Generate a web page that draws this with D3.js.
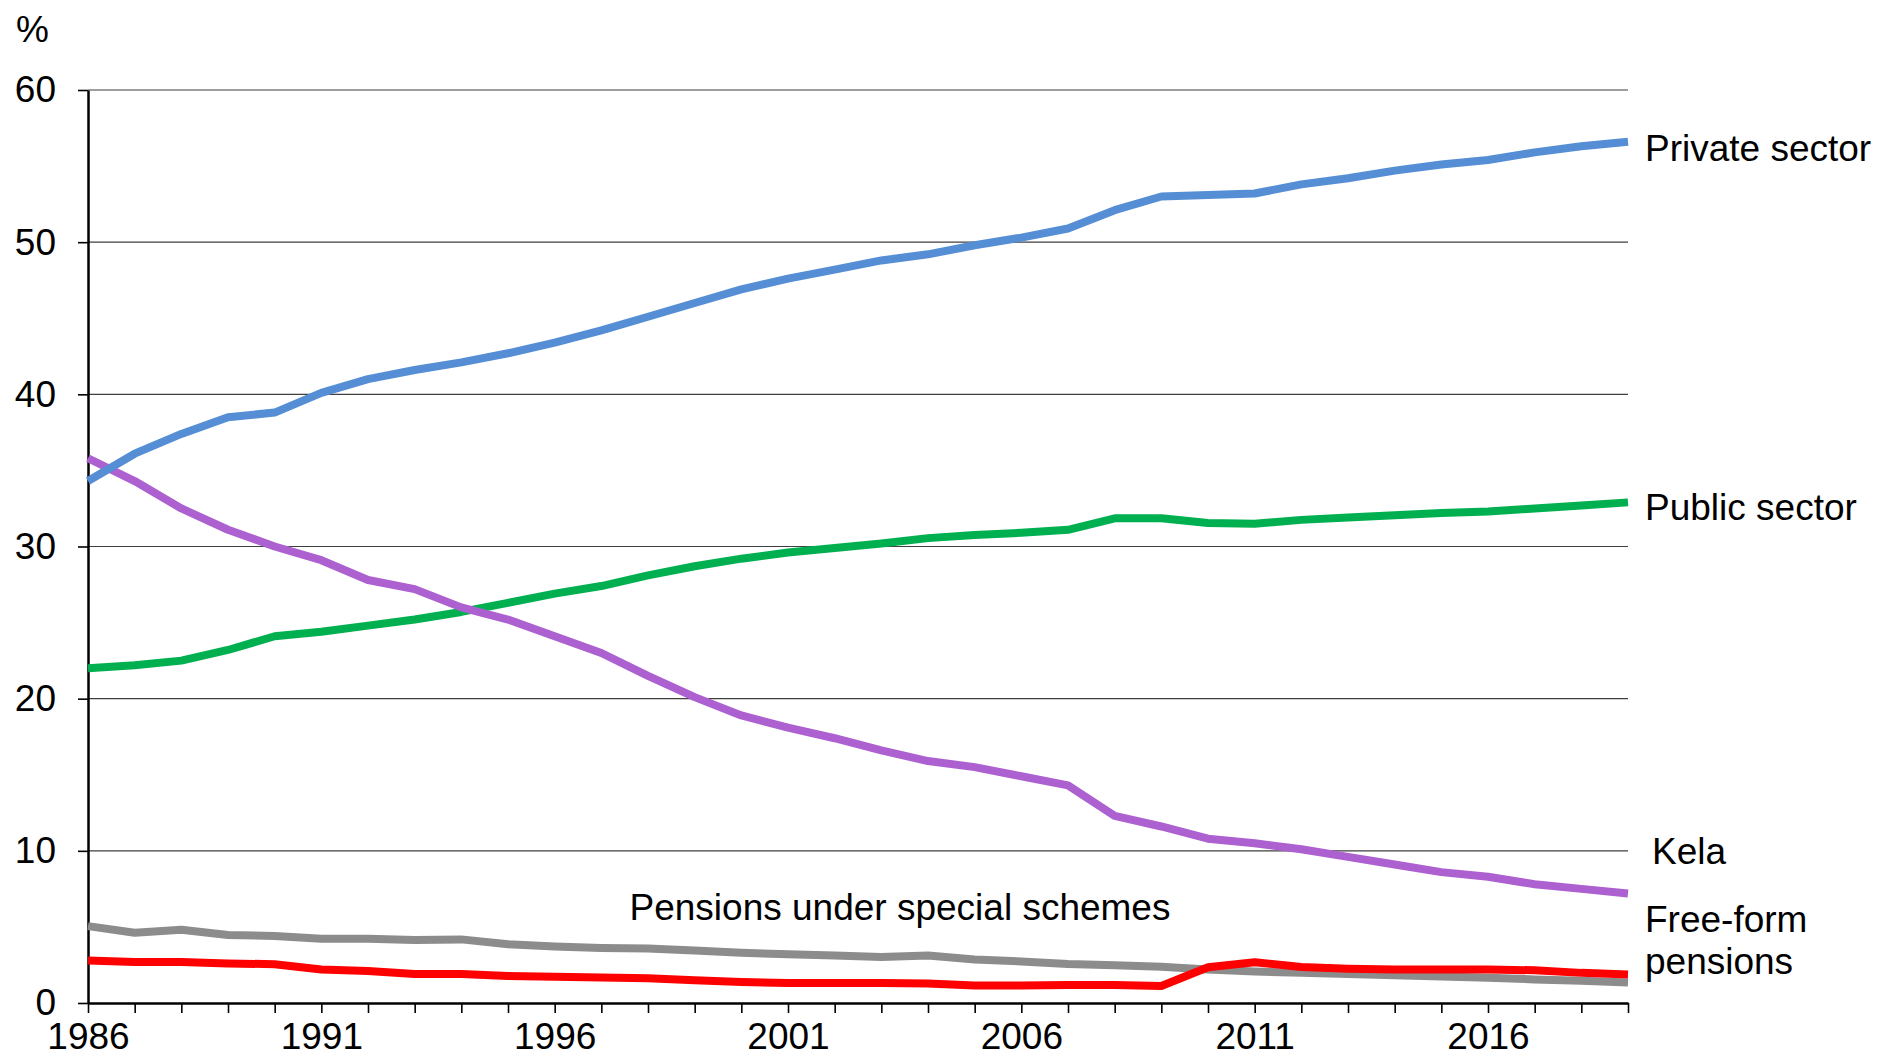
<!DOCTYPE html>
<html>
<head>
<meta charset="utf-8">
<script src="https://d3js.org/d3.v7.min.js"></script>
<style>
  body { margin: 0; background: #fff; }
  svg { display: block; }
  text { font-family: "Liberation Sans", Arial, sans-serif; fill: #000; }
</style>
</head>
<body>
<svg></svg>
<script>
// data
const years = d3.range(1986, 2020);

const privateSector = [34.3, 36.1, 37.4, 38.5, 38.8, 40.1, 41.0, 41.6, 42.1, 42.7,
  43.4, 44.2, 45.1, 46.0, 46.9, 47.6, 48.2, 48.8, 49.2, 49.8,
  50.3, 50.9, 52.1, 53.0, 53.1, 53.2, 53.8, 54.2, 54.7, 55.1,
  55.4, 55.9, 56.3, 56.6];

const publicSector = [22.0, 22.2, 22.5, 23.2, 24.1, 24.4, 24.8, 25.2, 25.7, 26.3,
  26.9, 27.4, 28.1, 28.7, 29.2, 29.6, 29.9, 30.2, 30.55, 30.75,
  30.9, 31.1, 31.85, 31.85, 31.55, 31.5, 31.75, 31.9, 32.05, 32.2,
  32.3, 32.5, 32.7, 32.9];

const kela = [35.8, 34.3, 32.5, 31.1, 30.0, 29.1, 27.8, 27.2, 26.0, 25.2,
  24.1, 23.0, 21.5, 20.1, 18.9, 18.1, 17.4, 16.6, 15.9, 15.5,
  14.9, 14.3, 12.3, 11.6, 10.8, 10.5, 10.1, 9.6, 9.1, 8.6,
  8.3, 7.8, 7.5, 7.2];

const specialSchemes = [5.05, 4.62, 4.82, 4.47, 4.4, 4.22, 4.22, 4.14, 4.18, 3.86,
  3.72, 3.62, 3.58, 3.45, 3.3, 3.2, 3.12, 3.02, 3.12, 2.86,
  2.73, 2.57, 2.48, 2.38, 2.2, 2.07, 1.98, 1.9, 1.82, 1.74,
  1.66, 1.55, 1.46, 1.35];

const freeForm = [2.8, 2.7, 2.7, 2.6, 2.55, 2.2, 2.1, 1.9, 1.9, 1.78,
  1.72, 1.68, 1.62, 1.5, 1.38, 1.32, 1.32, 1.32, 1.28, 1.15,
  1.15, 1.18, 1.18, 1.12, 2.35, 2.68, 2.36, 2.25, 2.2, 2.2,
  2.2, 2.15, 1.98, 1.88];

const yTicks = [0, 10, 20, 30, 40, 50, 60];
const xLabelYears = [1986, 1991, 1996, 2001, 2006, 2011, 2016];

// drawing order: later ones on top
const series = [
  { name: "Pensions under special schemes", values: specialSchemes, color: "#8c8c8c" },
  { name: "Free-form pensions", values: freeForm, color: "#ff0000" },
  { name: "Public sector", values: publicSector, color: "#00b050" },
  { name: "Kela", values: kela, color: "#ad60d0" },
  { name: "Private sector", values: privateSector, color: "#558ed5" }
];

const width = 1877;
const height = 1056;
const margin = { top: 90, right: 249, bottom: 53, left: 88 };

const svg = d3.select("svg")
  .attr("width", width)
  .attr("height", height);

const x = d3.scaleLinear()
  .domain([1986, 2019])
  .range([margin.left, width - margin.right]);

const y = d3.scaleLinear()
  .domain([0, 60])
  .range([height - margin.bottom, margin.top]);

// gridlines
svg.append("g")
  .selectAll("line")
  .data(yTicks.filter(d => d > 0))
  .enter()
  .append("line")
  .attr("x1", x(1986))
  .attr("x2", x(2019))
  .attr("y1", d => y(d))
  .attr("y2", d => y(d))
  .style("stroke", "#3f3f3f")
  .style("stroke-width", 1.2);

// y axis
const yAxis = svg.append("g")
  .attr("transform", "translate(" + margin.left + ",0)")
  .call(d3.axisLeft(y).tickValues(yTicks).tickSize(10).tickSizeOuter(0).tickPadding(22));

// x axis, a tick every year, a label every five
const xAxis = svg.append("g")
  .attr("transform", "translate(0," + y(0) + ")")
  .call(d3.axisBottom(x)
    .tickValues(years)
    .tickSize(10)
    .tickSizeOuter(0)
    .tickPadding(10)
    .tickFormat(d => xLabelYears.includes(d) ? String(d) : ""));

[yAxis, xAxis].forEach(function (g) {
  g.select(".domain").style("stroke", "#000").style("stroke-width", 2.5);
  g.selectAll(".tick line").style("stroke", "#000").style("stroke-width", 1.6);
  g.selectAll(".tick text")
    .style("font-size", "37px")
    .style("font-family", "'Liberation Sans', Arial, sans-serif")
    .style("fill", "#000");
});

// lines
const line = d3.line()
  .x((d, i) => x(years[i]))
  .y(d => y(d));

svg.append("g")
  .selectAll("path")
  .data(series)
  .enter()
  .append("path")
  .attr("d", d => line(d.values))
  .attr("fill", "none")
  .style("stroke", d => d.color)
  .style("stroke-width", 8)
  .style("stroke-linejoin", "round");

// unit
svg.append("text")
  .attr("x", margin.left - 72)
  .attr("y", y(60) - 48)
  .style("font-size", "37px")
  .text("%");

// series labels
const last = privateSector.length - 1;
const labels = [
  { lines: ["Private sector"], x: x(2019) + 17, y: y(privateSector[last]) + 6 },
  { lines: ["Public sector"], x: x(2019) + 17, y: y(publicSector[last]) + 5 },
  { lines: ["Kela"], x: x(2019) + 24, y: y(10) },
  { lines: ["Free-form", "pensions"], x: x(2019) + 17, y: y(5.5) },
  { lines: ["Pensions under special schemes"], x: x(2003.4), y: y(6.3), anchor: "middle" }
];

labels.forEach(function (l) {
  const t = svg.append("text")
    .attr("x", l.x)
    .attr("y", l.y)
    .attr("text-anchor", l.anchor || "start")
    .style("font-size", "37px");
  l.lines.forEach(function (s, i) {
    t.append("tspan")
      .attr("x", l.x)
      .attr("dy", i === 0 ? "0.35em" : "1.12em")
      .text(s);
  });
});
</script>
</body>
</html>
